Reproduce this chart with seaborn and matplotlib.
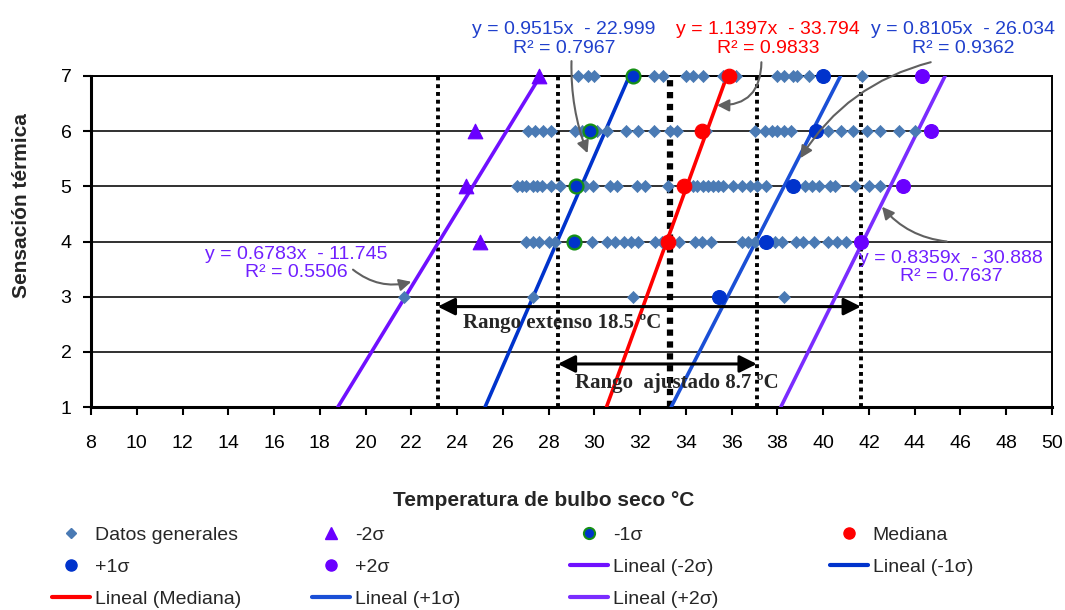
import matplotlib
matplotlib.use("Agg")
import matplotlib.pyplot as plt
from matplotlib.lines import Line2D
import seaborn as sns
import pandas as pd

# Datos generales (temperature readings) per thermal sensation vote
gen_x7 = [29.3, 29.7, 30.0, 32.6, 33.0, 34.0, 34.3, 34.75, 35.6, 36.2, 38.0, 38.3,
          38.7, 38.85, 39.4, 41.7]
gen_x6 = [27.1, 27.4, 27.75, 28.1, 29.15, 29.45, 30.1, 30.55, 31.4, 31.9, 32.6, 33.3,
          33.6, 34.9, 37.0, 37.45, 37.75, 38.0, 38.3, 38.6, 40.2, 40.8, 41.3, 41.9,
          42.5, 43.3, 44.0]
gen_x5 = [26.6, 26.85, 27.0, 27.3, 27.5, 27.7, 28.1, 28.5, 29.6, 29.95, 30.7, 31.0,
          31.85, 32.2, 33.2, 34.3, 34.5, 34.75, 34.95, 35.2, 35.4, 35.6, 36.05, 36.45,
          36.8, 37.1, 37.5, 39.2, 39.5, 39.8, 40.3, 40.5, 41.4, 42.0, 42.5]
gen_x4 = [27.0, 27.3, 27.6, 28.0, 28.3, 29.9, 30.55, 30.9, 31.3, 31.6, 31.9, 32.65,
          32.95, 33.7, 34.4, 34.7, 35.1, 36.45, 36.7, 37.0, 37.9, 38.2, 38.8, 39.1,
          39.6, 40.2, 40.6, 41.0]
gen_x3 = [21.7, 27.3, 31.7, 38.3]

# sigma groups
m2_x = [25.0, 24.4, 24.8, 27.6]
m2_y = [4, 5, 6, 7]
m1_x = [29.1, 29.2, 29.8, 31.7]
m1_y = [4, 5, 6, 7]
med_x = [33.2, 33.9, 34.7, 35.9]
med_y = [4, 5, 6, 7]
p1_x = [35.45, 37.5, 38.7, 39.7, 40.0]
p1_y = [3, 4, 5, 6, 7]
p2_x = [41.65, 43.5, 44.7, 44.3]
p2_y = [4, 5, 6, 7]

# linear trend lines (y = m x + b)
fit_names = ['Lineal (-2σ)', 'Lineal (-1σ)', 'Lineal (Mediana)', 'Lineal (+1σ)', 'Lineal (+2σ)']
fit_slope = [0.6783, 0.9515, 1.1397, 0.8105, 0.8359]
fit_icpt = [-11.745, -22.999, -33.794, -26.034, -30.888]
fit_r2 = [0.5506, 0.7967, 0.9833, 0.9362, 0.7637]

# comfort range limits
range_lines = [23.15, 28.4, 33.3, 37.1, 41.65]
x_ticks = list(range(8, 51, 2))
y_ticks = [1, 2, 3, 4, 5, 6, 7]

PURPLE = '#6a00ff'
BLUE = '#0033cc'
BLUE2 = '#1a4fd6'
RED = '#ff0000'
GEN = '#4a7ab4'
GREEN = '#169016'
line_cols = ['#7010ff', BLUE, RED, BLUE2, '#7a2cff']
eq_cols = ['#7020ff', '#2040cc', RED, '#2040cc', '#7020ff']

sns.set_theme(style='white')
plt.rcParams['font.family'] = ['Liberation Sans', 'DejaVu Sans']

fig = plt.figure(figsize=(10.65, 6.1), dpi=100)
ax = fig.add_axes([91 / 1065, 1 - 407 / 610, (1052 - 91) / 1065, (407 - 76) / 610])

# horizontal grid
for yv in y_ticks[1:]:
    ax.axhline(yv, color='#202020', lw=1.3, zorder=1)

# vertical range lines
for i, xv in enumerate(range_lines):
    if i == 2:
        ax.plot([xv, xv], [1, 7], color='black', lw=4.5, ls=(0, (1, 0.9)), zorder=2)
    else:
        ax.plot([xv, xv], [1, 7], color='black', lw=2.8, ls=(0, (1, 1)), zorder=2)

# trend lines
for m, b, c in zip(fit_slope, fit_icpt, line_cols):
    tl = pd.DataFrame({'y': [1, 7]})
    tl['x'] = (tl['y'] - b) / m
    sns.lineplot(data=tl, x='x', y='y', color=c, lw=2.6, sort=False,
                 estimator=None, ax=ax, zorder=3)

gen = pd.concat([pd.DataFrame({'x': xs, 'y': yv}) for xs, yv in
                 [(gen_x7, 7), (gen_x6, 6), (gen_x5, 5), (gen_x4, 4), (gen_x3, 3)]])
sns.scatterplot(data=gen, x='x', y='y', marker='D', s=38, color=GEN,
                edgecolor=GEN, linewidth=0.5, ax=ax, zorder=4, clip_on=False)
sns.scatterplot(x=m2_x, y=m2_y, marker='^', s=110, color=PURPLE, edgecolor=PURPLE,
                ax=ax, zorder=5, clip_on=False)
sns.scatterplot(x=m1_x, y=m1_y, marker='o', s=100, color=BLUE, edgecolor=GREEN,
                linewidth=1.6, ax=ax, zorder=5, clip_on=False)
sns.scatterplot(x=med_x, y=med_y, marker='o', s=110, color=RED, edgecolor=RED,
                ax=ax, zorder=5, clip_on=False)
sns.scatterplot(x=p1_x, y=p1_y, marker='o', s=100, color=BLUE, edgecolor=BLUE,
                ax=ax, zorder=5, clip_on=False)
sns.scatterplot(x=p2_x, y=p2_y, marker='o', s=100, color=PURPLE, edgecolor=PURPLE,
                ax=ax, zorder=5, clip_on=False)

ax.set_xlim(8, 50)
ax.set_ylim(1, 7)
ax.set_xticks(x_ticks)
ax.set_yticks(y_ticks)
ax.tick_params(axis='both', labelsize=14, length=6, width=1.5, color='black',
               direction='out', bottom=True, left=True, labelcolor='black')
ax.tick_params(axis='x', pad=14)
ax.tick_params(axis='y', pad=8)
for s in ['left', 'bottom']:
    ax.spines[s].set_linewidth(2.2)
    ax.spines[s].set_color('black')
for s in ['right', 'top']:
    ax.spines[s].set_linewidth(1.4)
    ax.spines[s].set_color('black')
ax.set_xlabel('')
ax.set_ylabel('')

# equation labels and arrows (in fit order): text centre, arrow start, arrow tip, rad
eq_pos = [(16.96, 3.6), (28.67, 7.67), (37.6, 7.67), (46.1, 7.67), (45.6, 3.53)]
arr = [((19.45, 3.49), (22.0, 3.27), 0.25),
       ((29.0, 7.27), (29.7, 5.6), 0.1),
       ((37.3, 7.25), (35.36, 6.47), -0.5),
       ((44.7, 7.25), (39.0, 5.51), 0.2),
       ((45.4, 4.0), (42.57, 4.63), -0.2)]
for i in range(5):
    tx, ty = eq_pos[i]
    ax.text(tx, ty, f"y = {fit_slope[i]:.4f}x  - {abs(fit_icpt[i]):.3f}\nR² = {fit_r2[i]:.4f}",
            color=eq_cols[i], fontsize=14, ha='center', va='center', linespacing=1.1,
            clip_on=False, zorder=6)
    (sx, sy), (ex, ey), rad = arr[i]
    ax.annotate('', xy=(ex, ey), xytext=(sx, sy), annotation_clip=False,
                arrowprops=dict(arrowstyle='-|>', color='#606060', lw=1.5,
                                mutation_scale=18, shrinkA=0, shrinkB=0,
                                connectionstyle=f'arc3,rad={rad}'), zorder=6)

# range arrows
ax.annotate('', xy=(range_lines[0], 2.82), xytext=(range_lines[4], 2.82),
            arrowprops=dict(arrowstyle='<|-|>', color='black', lw=2.2,
                            mutation_scale=26, shrinkA=0, shrinkB=0), zorder=6)
ax.annotate('', xy=(range_lines[1], 1.78), xytext=(range_lines[3], 1.78),
            arrowprops=dict(arrowstyle='<|-|>', color='black', lw=2.2,
                            mutation_scale=26, shrinkA=0, shrinkB=0), zorder=6)
ax.text(28.6, 2.53, 'Rango extenso 18.5 ºC', family=['Liberation Serif'],
        fontweight='bold', fontsize=15, ha='center', va='center', zorder=6)
ax.text(33.6, 1.44, 'Rango  ajustado 8.7 ºC', family=['Liberation Serif'],
        fontweight='bold', fontsize=15, ha='center', va='center', zorder=6)

fig.text(544 / 1065, 1 - 500 / 610, 'Temperatura de bulbo seco °C', fontsize=15,
         fontweight='bold', ha='center', va='center')
fig.text(22 / 1065, 1 - 206 / 610, 'Sensación térmica', fontsize=15,
         fontweight='bold', ha='center', va='center', rotation=90)

# legend, laid out row by row like the original
def mk(marker, fc, ec, ms, mew=1):
    return Line2D([], [], ls='none', marker=marker, markerfacecolor=fc,
                  markeredgecolor=ec, markersize=ms, markeredgewidth=mew)

def ln(c):
    return Line2D([], [], color=c, lw=3)

entries = [(mk('D', GEN, GEN, 5), 'Datos generales'),
           (mk('^', PURPLE, PURPLE, 8), '-2σ'),
           (mk('o', BLUE, GREEN, 8, 1.5), '-1σ'),
           (mk('o', RED, RED, 8), 'Mediana'),
           (mk('o', BLUE, BLUE, 8), '+1σ'),
           (mk('o', PURPLE, PURPLE, 8), '+2σ'),
           (ln(line_cols[0]), fit_names[0]),
           (ln(line_cols[1]), fit_names[1]),
           (ln(line_cols[2]), fit_names[2]),
           (ln(line_cols[3]), fit_names[3]),
           (ln(line_cols[4]), fit_names[4])]
col_x = [52, 312, 570, 830]
for c in range(4):
    items = entries[c::4]
    fig.legend([h for h, _ in items], [t for _, t in items], loc='upper left',
               bbox_to_anchor=(col_x[c] / 1065, 1 - 526 / 610), frameon=False,
               fontsize=14, handlelength=1.95, handletextpad=0.25, labelspacing=0.75,
               borderpad=0, borderaxespad=0)

fig.savefig('out.png', dpi=100)
